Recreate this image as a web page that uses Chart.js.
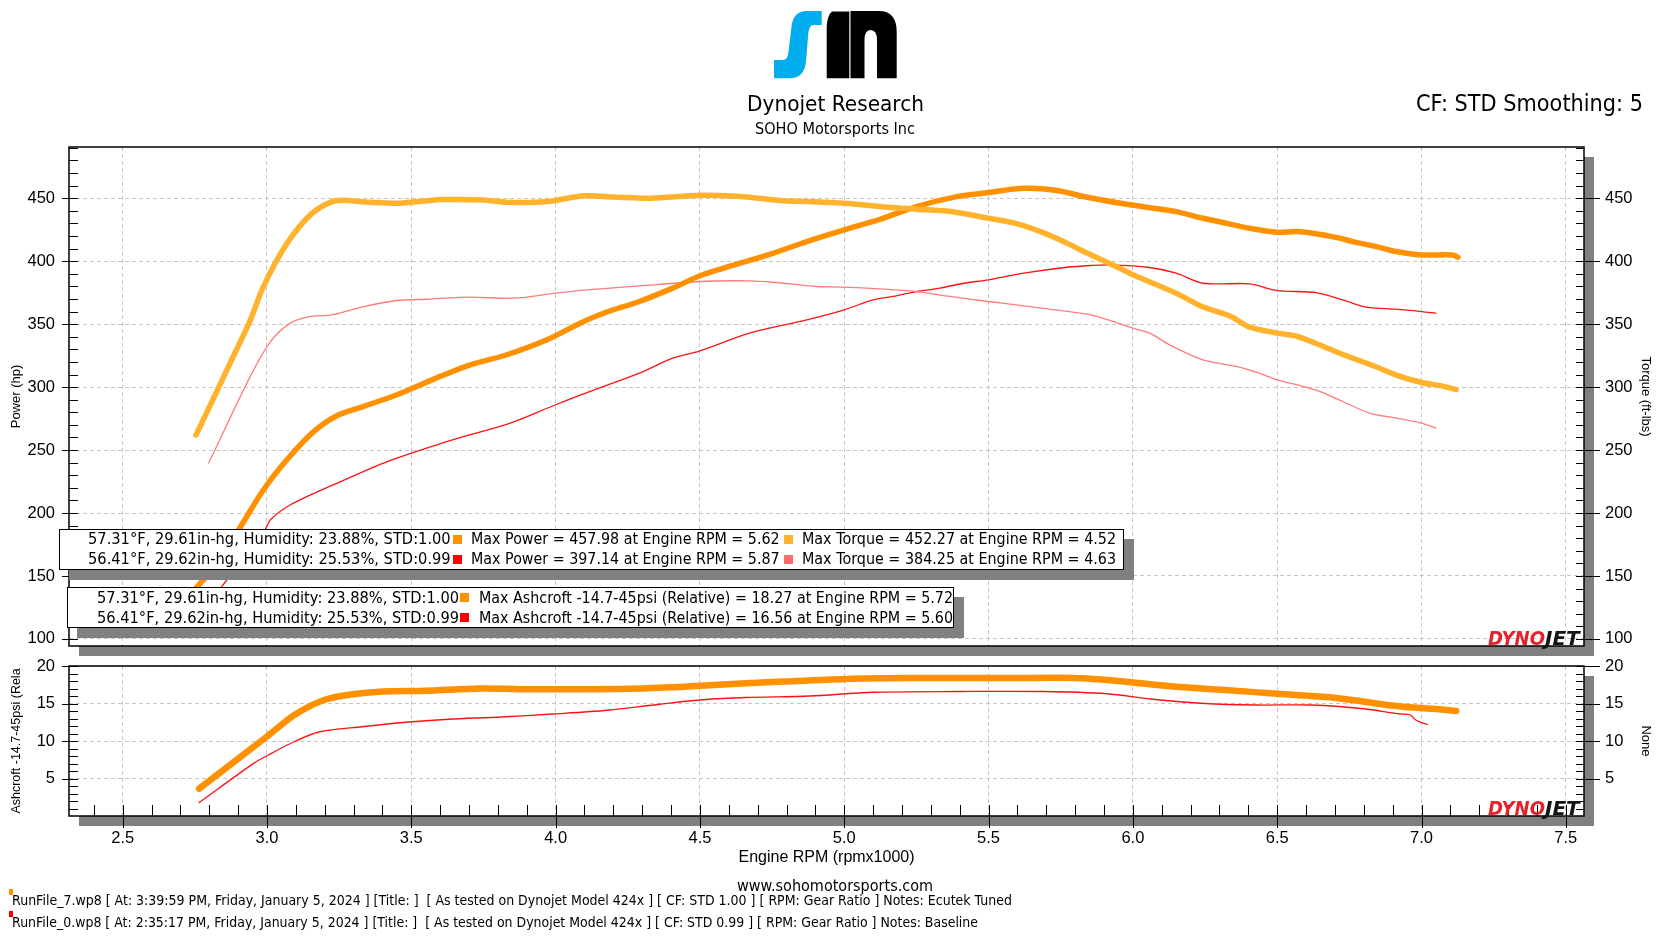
<!DOCTYPE html>
<html>
<head>
<meta charset="utf-8">
<title>Dynojet Research - SOHO Motorsports Inc</title>
<script src="https://cdn.jsdelivr.net/npm/chart.js@4.4.1/dist/chart.umd.min.js"></script>
<style>
  html, body { margin: 0; padding: 0; background: #fff; }
  body { position: relative; width: 1670px; height: 939px; overflow: hidden; }
  canvas, svg { position: absolute; left: 0; top: 0; }
  .txt { position: absolute; white-space: pre; line-height: 1; font-family: "DejaVu Sans", sans-serif; color: #000; transform-origin: left center; }
  .box { position: absolute; background: #fff; border: 1px solid #000; box-sizing: border-box; box-shadow: 10px 10px 0 #808080; }
  .sq { position: absolute; width: 9px; height: 9px; }
</style>
</head>
<body>
<svg width="1670" height="939" viewBox="0 0 1670 939">
  <path fill="#00AEEF" d="M821.7,11 L821.7,25 L813.3,25 Q809.3,25 808.3,33.3 L806,61.7 Q804,78.3 790,78.3 L774,78.3 L774,60 L783.3,60 Q787.3,60 788.3,53.3 L791.7,25 Q794,11 806.7,11 Z"/>
  <path fill="#000" d="M832,11.5 L849.3,11.5 L849.3,78.3 L826.7,78.3 L826.7,26 Q827.5,15 832,11.5 Z"/>
  <path fill="#000" d="M850.5,11 L879,11 Q896.7,11 896.7,32 L896.7,78.3 L877,78.3 L877,40 Q877,30 870.5,30 Q864.5,30 864.5,40 L864.5,78.3 L850.5,78.3 Z"/>
</svg>
<canvas id="hpChart" width="1670" height="939"></canvas>
<canvas id="boostChart" width="1670" height="939"></canvas>
<script>
// ---- data (engine rpm x1000) ----
// RunFile_7 (Ecutek tuned)
const hpTunedRpm = [2.754, 2.815, 2.902, 2.988, 3.069, 3.156, 3.237, 3.335, 3.45, 3.60, 3.704, 3.831, 3.97, 4.085, 4.166, 4.29, 4.406, 4.50, 4.58, 4.753, 4.87, 5.00, 5.124, 5.25, 5.39, 5.50, 5.622, 5.737, 5.841, 5.957, 6.046, 6.15, 6.243, 6.312, 6.404, 6.50, 6.566, 6.624, 6.716, 6.762, 6.843, 6.912, 7.00, 7.108, 7.126];
const hpTuned = [140.5, 156.4, 186.8, 218.5, 242.3, 263.5, 276.7, 284.7, 293.9, 308.5, 317.7, 325.7, 337.6, 350.8, 358.7, 368, 378.6, 388.4, 394.4, 406.3, 415.6, 424.9, 433.3, 443.4, 451.3, 454.5, 457.9, 456.1, 450.8, 446, 442.9, 439.4, 434.1, 430.7, 426.2, 423, 423.5, 422.2, 418.3, 415.6, 411.6, 407.7, 405, 405, 403.2];
const tqTunedRpm = [2.754, 2.80, 2.87, 2.94, 2.988, 3.069, 3.156, 3.237, 3.34, 3.45, 3.55, 3.61, 3.75, 3.83, 3.97, 4.10, 4.20, 4.33, 4.50, 4.64, 4.79, 4.87, 5.00, 5.15, 5.25, 5.37, 5.50, 5.59, 5.68, 5.76, 5.83, 5.96, 6.00, 6.15, 6.24, 6.34, 6.40, 6.50, 6.57, 6.66, 6.73, 6.84, 6.91, 7.00, 7.07, 7.12];
const tqTuned = [262, 284, 318, 352, 380, 414, 438, 448, 447, 446, 448, 449, 448.7, 446.8, 447.4, 451.9, 451, 450, 452.4, 451.3, 448, 447.4, 446, 442.9, 441.3, 439.4, 434.1, 430.2, 423.5, 415.6, 407.7, 393.9, 389.2, 374.6, 364, 356.1, 348.1, 342.9, 340.2, 332.3, 325.7, 316.4, 309.8, 303.7, 301, 298];
const boostTunedRpm = [2.765, 3.0, 3.095, 3.2, 3.29, 3.40, 3.55, 3.74, 3.92, 4.1, 4.29, 4.47, 4.66, 4.84, 5.03, 5.21, 5.40, 5.58, 5.80, 5.95, 6.13, 6.32, 6.50, 6.69, 6.926, 7.04, 7.12];
const boostTuned = [3.64, 10.6, 13.47, 15.5, 16.2, 16.6, 16.7, 17.0, 16.9, 16.9, 17.0, 17.3, 17.7, 18.0, 18.3, 18.4, 18.4, 18.4, 18.4, 18.0, 17.3, 16.8, 16.3, 15.8, 14.6, 14.3, 14.0];

// RunFile_0 (baseline)
const hpBaseRpm = [2.798, 2.844, 2.994, 3.012, 3.081, 3.231, 3.404, 3.589, 3.704, 3.843, 4.00, 4.12, 4.29, 4.406, 4.50, 4.672, 4.87, 5.00, 5.10, 5.17, 5.25, 5.332, 5.413, 5.50, 5.622, 5.772, 5.853, 5.92, 6.058, 6.15, 6.243, 6.404, 6.50, 6.635, 6.727, 6.808, 6.912, 7.00, 7.05];
const hpBase = [128, 141.8, 187.3, 194.7, 206.6, 222.5, 239.7, 254.2, 262.2, 271.4, 286, 296.6, 311.1, 323, 328.8, 342.9, 353.4, 361.4, 369.3, 372, 375.9, 378.6, 382.5, 385.2, 390.5, 395.2, 396.6, 397.1, 395, 390.5, 382.5, 382, 376.7, 375.1, 369.3, 363.5, 361.9, 360, 358.7];
const tqBaseRpm = [2.798, 2.942, 3.012, 3.081, 3.15, 3.225, 3.335, 3.45, 3.554, 3.704, 3.855, 4.00, 4.109, 4.29, 4.50, 4.672, 4.753, 4.904, 5.00, 5.124, 5.25, 5.367, 5.50, 5.622, 5.772, 5.853, 5.92, 6.00, 6.058, 6.127, 6.243, 6.358, 6.427, 6.50, 6.566, 6.647, 6.727, 6.82, 6.912, 7.00, 7.05];
const tqBase = [239.7, 308.5, 336.2, 350.8, 356.1, 357.4, 364, 368.8, 369.8, 371.4, 370.6, 374.6, 377.2, 380.4, 383.9, 384.4, 383.3, 379.9, 379.4, 378, 375.9, 372, 368, 364.6, 360.1, 357.4, 353, 346.8, 342.9, 333.6, 321.7, 316.4, 311.9, 305.8, 301.9, 296.6, 288.6, 279.4, 275.4, 271.4, 267.5];
const boostBaseRpm = [2.765, 2.956, 3.0, 3.095, 3.18, 3.33, 3.48, 3.63, 3.81, 3.99, 4.18, 4.36, 4.51, 4.66, 4.88, 5.1, 5.4, 5.69, 5.91, 6.06, 6.25, 6.43, 6.62, 6.80, 6.926, 6.96, 6.98, 7.0, 7.02];
const boostBase = [1.79, 7.08, 8.04, 9.93, 11.2, 11.9, 12.5, 12.9, 13.2, 13.6, 14.1, 14.9, 15.5, 15.8, 16.0, 16.5, 16.6, 16.6, 16.3, 15.6, 15.0, 14.8, 14.8, 14.3, 13.6, 13.5, 12.8, 12.45, 12.2];

// axis ticks
const rpmTicks = [2.5, 3.0, 3.5, 4.0, 4.5, 5.0, 5.5, 6.0, 6.5, 7.0, 7.5];
const powerTicks = [100, 150, 200, 250, 300, 350, 400, 450];
const boostTicks = [5, 10, 15, 20];

const COLOR_TUNED_HP = '#FF9100';
const COLOR_TUNED_TQ = '#FFB22B';
const COLOR_BASE_HP = '#FF1212';
const COLOR_BASE_TQ = '#FF7C7C';

const pts = (xs, ys) => xs.map((x, i) => ({ x, y: ys[i] }));

// ---- helpers ----
const fixedWidth = (w) => (scale) => { scale.width = w; };
const fixedHeight = (h) => (scale) => { scale.height = h; };
const setTicks = (values) => (scale) => { scale.ticks = values.map((value) => ({ value })); };

const tickFont = { family: 'Liberation Sans', size: 16.5 };
const gridStyle = { color: '#c6c6c6', lineWidth: 1, drawTicks: false };
const dashedGrid = { display: false, dash: [4, 3] };

function yScale(position, min, max, ticks, title, titleSize, width, showGrid) {
  return {
    type: 'linear',
    position,
    min,
    max,
    afterBuildTicks: setTicks(ticks),
    afterFit: fixedWidth(width),
    grid: showGrid ? gridStyle : { display: false, drawTicks: false },
    border: dashedGrid,
    ticks: { font: tickFont, color: '#000', padding: position === 'left' ? 14 : 21 },
    title: { display: true, text: title, color: '#000', font: { family: 'Liberation Sans', size: titleSize }, padding: 0 },
  };
}

function line(data, color, width, axis) {
  return {
    data,
    borderColor: color,
    backgroundColor: color,
    borderWidth: width,
    pointRadius: 0,
    tension: 0.3,
    fill: false,
    borderCapStyle: 'round',
    borderJoinStyle: 'round',
    yAxisID: axis,
  };
}

// shadow, frame, tick marks and DYNOJET mark around each plot
const plotFrame = {
  id: 'plotFrame',
  beforeDraw(chart) {
    const { ctx, chartArea: a } = chart;
    ctx.save();
    ctx.fillStyle = '#808080';
    ctx.fillRect(a.left + 10, a.top + 10, a.width, a.height);
    ctx.fillStyle = '#fff';
    ctx.fillRect(a.left, a.top, a.width, a.height);
    ctx.restore();
  },
  afterDraw(chart, args, opts) {
    const { ctx, chartArea: a, scales } = chart;
    ctx.save();
    ctx.strokeStyle = '#000';
    ctx.lineWidth = 1;
    ctx.beginPath();
    const ys = scales.y;
    for (let i = opts.yFrom; i <= opts.yTo; i += opts.yMinor) {
      const p = Math.round(ys.getPixelForValue(i)) + 0.5;
      const major = i % opts.yMajor === 0;
      ctx.moveTo(a.left - (major ? 7 : 0), p);
      ctx.lineTo(a.left + 9, p);
      ctx.moveTo(a.right - 8, p);
      ctx.lineTo(a.right + (major ? 16 : 0), p);
    }
    if (opts.xTicks) {
      const xs = scales.x;
      for (let i = 24; i <= 75; i++) {
        const p = Math.round(xs.getPixelForValue(i / 10)) + 0.5;
        const major = i % 5 === 0;
        ctx.moveTo(p, a.bottom - 11);
        ctx.lineTo(p, a.bottom + (major ? 12 : 0));
      }
    }
    ctx.stroke();
    ctx.lineWidth = 1.5;
    ctx.strokeRect(a.left, a.top, a.width, a.height);

    ctx.font = 'italic bold 20px "DejaVu Sans"';
    ctx.textBaseline = 'alphabetic';
    ctx.textAlign = 'left';
    ctx.fillStyle = '#E8202A';
    ctx.fillText('DYNO', a.right - 96, a.bottom - 1, 57);
    ctx.fillStyle = '#141414';
    ctx.fillText('JET', a.right - 39, a.bottom - 1, 36);
    ctx.restore();
  },
};

const baseOptions = {
  responsive: false,
  animation: false,
  devicePixelRatio: 1,
  events: [],
};

const rpmMin = 2.314;
const rpmMax = 7.563;

new Chart(document.getElementById('hpChart'), {
  type: 'line',
  data: {
    datasets: [
      line(pts(tqTunedRpm, tqTuned), COLOR_TUNED_TQ, 5.5, 'y2'),
      line(pts(hpTunedRpm, hpTuned), COLOR_TUNED_HP, 5.5, 'y'),
      line(pts(tqBaseRpm, tqBase), COLOR_BASE_TQ, 1.3, 'y2'),
      line(pts(hpBaseRpm, hpBase), COLOR_BASE_HP, 1.3, 'y'),
    ],
  },
  options: {
    ...baseOptions,
    layout: { padding: { left: 9, right: 17, top: 147, bottom: 293 } },
    plugins: {
      legend: { display: false },
      tooltip: { enabled: false },
      plotFrame: { yFrom: 100, yTo: 490, yMinor: 10, yMajor: 50, xTicks: false },
    },
    scales: {
      x: {
        type: 'linear',
        min: rpmMin,
        max: rpmMax,
        afterBuildTicks: setTicks(rpmTicks),
        afterFit: fixedHeight(0),
        ticks: { display: false },
        grid: gridStyle,
        border: dashedGrid,
      },
      y: yScale('left', 94.4, 490.7, powerTicks, 'Power (hp)', 13, 60, true),
      y2: yScale('right', 94.4, 490.7, powerTicks, 'Torque (ft-lbs)', 13, 69, false),
    },
  },
  plugins: [plotFrame],
});

new Chart(document.getElementById('boostChart'), {
  type: 'line',
  data: {
    datasets: [
      line(pts(boostTunedRpm, boostTuned), COLOR_TUNED_HP, 6.5, 'y'),
      line(pts(boostBaseRpm, boostBase), COLOR_BASE_HP, 1.3, 'y'),
    ],
  },
  options: {
    ...baseOptions,
    layout: { padding: { left: 9, right: 17, top: 666, bottom: 72 } },
    plugins: {
      legend: { display: false },
      tooltip: { enabled: false },
      plotFrame: { yFrom: 1, yTo: 20, yMinor: 1, yMajor: 5, xTicks: true },
    },
    scales: {
      x: {
        type: 'linear',
        min: rpmMin,
        max: rpmMax,
        afterBuildTicks: setTicks(rpmTicks),
        afterFit: fixedHeight(51),
        ticks: { font: tickFont, color: '#000', padding: 13, callback: (v) => v.toFixed(1), maxRotation: 0 },
        grid: gridStyle,
        border: dashedGrid,
        title: { display: true, text: 'Engine RPM (rpmx1000)', color: '#000', font: { family: 'Liberation Sans', size: 16 }, padding: 0 },
      },
      y: yScale('left', 0, 20, boostTicks, 'Ashcroft -14.7-45psi (Rela', 12.5, 60, true),
      y2: yScale('right', 0, 20, boostTicks, 'None', 13, 69, false),
    },
  },
  plugins: [plotFrame],
});

// ---- text, legend boxes, footer ----
function place(text, x, yc, size, w, align) {
  const d = document.createElement('div');
  d.className = 'txt';
  d.textContent = text;
  d.style.fontSize = size + 'px';
  d.style.top = (yc - size / 2) + 'px';
  document.body.appendChild(d);
  const nat = d.getBoundingClientRect().width;
  const s = w ? w / nat : 1;
  const ww = nat * s;
  const left = align === 'center' ? x - ww / 2 : align === 'right' ? x - ww : x;
  d.style.left = left + 'px';
  d.style.transform = 'scaleX(' + s + ')';
}

function rect(cls, x, y, w, h, color) {
  const d = document.createElement('div');
  d.className = cls;
  Object.assign(d.style, { left: x + 'px', top: y + 'px', width: w + 'px', height: h + 'px' });
  if (color) d.style.background = color;
  document.body.appendChild(d);
}

place('Dynojet Research', 835, 103.5, 21.5, 177, 'center');
place('SOHO Motorsports Inc', 835, 129, 16, 160, 'center');
place('CF: STD Smoothing: 5', 1643, 103.5, 22.5, 227, 'right');

rect('box', 59, 529, 1065, 41);
place('57.31°F, 29.61in-hg, Humidity: 23.88%, STD:1.00', 88.3, 539, 16, 362.7);
rect('sq', 453, 534.5, 9, 9, COLOR_TUNED_HP);
place('Max Power = 457.98 at Engine RPM = 5.62', 471, 539, 16, 308.6);
rect('sq', 784, 534.5, 9, 9, COLOR_TUNED_TQ);
place('Max Torque = 452.27 at Engine RPM = 4.52', 801.7, 539, 16, 314);
place('56.41°F, 29.62in-hg, Humidity: 25.53%, STD:0.99', 88.3, 559, 16, 362.7);
rect('sq', 453, 554.5, 9, 9, '#FF0000');
place('Max Power = 397.14 at Engine RPM = 5.87', 471, 559, 16, 308.6);
rect('sq', 784, 554.5, 9, 9, '#FF6A6A');
place('Max Torque = 384.25 at Engine RPM = 4.63', 801.7, 559, 16, 314);

rect('box', 67, 587, 887, 41);
place('57.31°F, 29.61in-hg, Humidity: 23.88%, STD:1.00', 96.7, 597.5, 16, 362);
rect('sq', 460, 593, 9, 9, COLOR_TUNED_HP);
place('Max Ashcroft -14.7-45psi (Relative) = 18.27 at Engine RPM = 5.72', 478.6, 597.5, 16, 474);
place('56.41°F, 29.62in-hg, Humidity: 25.53%, STD:0.99', 96.7, 617.5, 16, 362);
rect('sq', 460, 613, 9, 9, '#FF0000');
place('Max Ashcroft -14.7-45psi (Relative) = 16.56 at Engine RPM = 5.60', 478.6, 617.5, 16, 474);

place('www.sohomotorsports.com', 835, 886, 16, 196, 'center');
rect('sq', 9, 889, 4, 6, COLOR_TUNED_HP);
place('RunFile_7.wp8 [ At: 3:39:59 PM, Friday, January 5, 2024 ] [Title: ]  [ As tested on Dynojet Model 424x ] [ CF: STD 1.00 ] [ RPM: Gear Ratio ] Notes: Ecutek Tuned', 12, 900, 14.5, 1000);
rect('sq', 9, 911, 4, 6, '#FF0000');
place('RunFile_0.wp8 [ At: 2:35:17 PM, Friday, January 5, 2024 ] [Title: ]  [ As tested on Dynojet Model 424x ] [ CF: STD 0.99 ] [ RPM: Gear Ratio ] Notes: Baseline', 12, 922, 14.5, 966);
</script>
</body>
</html>
